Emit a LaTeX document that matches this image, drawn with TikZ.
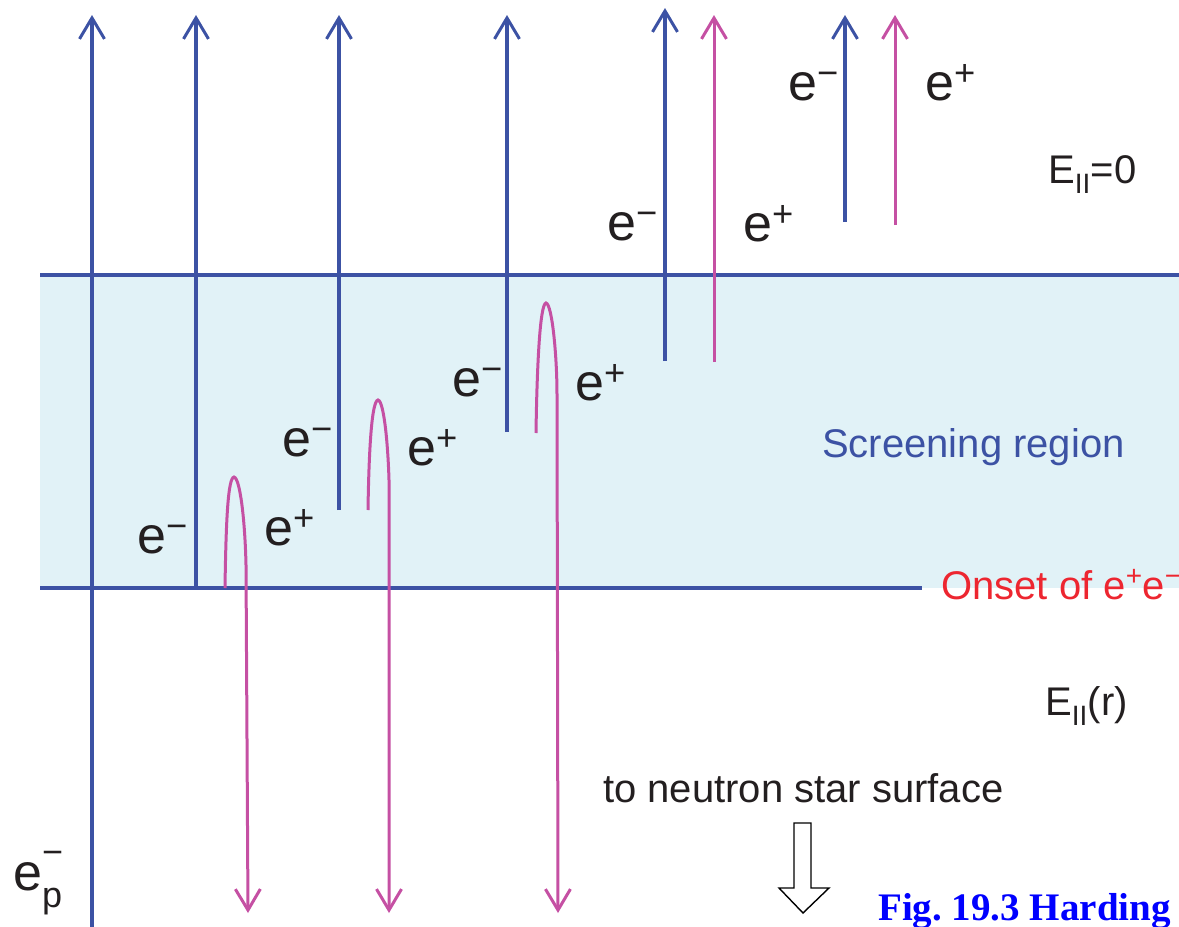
\documentclass[tikz,border=0pt]{standalone}
\usepackage{fontspec}
\setmainfont{Liberation Sans}
\newfontfamily\figfont{Liberation Serif}
\usetikzlibrary{arrows.meta, positioning}
\definecolor{beamblue}{RGB}{60, 82, 164}
\definecolor{pairpink}{RGB}{197, 80, 163}
\definecolor{screenfill}{RGB}{225, 242, 247}
\definecolor{onsetred}{RGB}{237, 38, 48}
\definecolor{labelink}{RGB}{35, 31, 32}
\definecolor{figblue}{RGB}{0, 0, 255}
\newcommand{\pcharge}[1]{e\raisebox{0.1em}{\textsuperscript{#1}}}
\newcommand{\Epar}{E\textsubscript{II}}

\begin{document}
\begin{tikzpicture}[
      x=1pt, y=-1pt,
      barb/.style={-{Straight Barb[length=21pt, width=25pt, line width=3pt]}},
      eline/.style={draw=beamblue, line width=3.2pt},
      pline/.style={draw=pairpink, line width=3pt},
      bandline/.style={draw=beamblue, line width=3.2pt},
      plabel/.style={anchor=base west, inner sep=0pt, text=labelink, font=\fontsize{52}{60}\selectfont},
      tlabel/.style={anchor=base west, inner sep=0pt, text=labelink, font=\fontsize{40}{48}\selectfont}
    ]
      \useasboundingbox (0,0) rectangle (1179,927);

      % screening region
      \fill[screenfill] (40,275) rectangle (1179,588);
      \coordinate (topL) at (40,275);
      \coordinate (topR) at (1179,275);
      \coordinate (onL) at (40,588);
      \coordinate (onR) at (922,588);
      \draw[bandline] (topL) -- (topR);
      \draw[bandline] (onL) -- (onR);

      % electrons going out
      \coordinate (p0) at (92,927);   \coordinate (t0) at (92,15);
      \coordinate (p1) at (196,588);  \coordinate (t1) at (196,15);
      \coordinate (p2) at (339,510);  \coordinate (t2) at (339,15);
      \coordinate (p3) at (507,432);  \coordinate (t3) at (507,15);
      \coordinate (p4) at (665,361);  \coordinate (t4) at (665,8);
      \coordinate (p5) at (845,222);  \coordinate (t5) at (845,15);
      \draw[eline, barb] (p0) -- (t0);
      \draw[eline, barb] (p1) -- (t1);
      \draw[eline, barb] (p2) -- (t2);
      \draw[eline, barb] (p3) -- (t3);
      \draw[eline, barb] (p4) -- (t4);
      \draw[eline, barb] (p5) -- (t5);

      % positrons going out
      \coordinate (q4) at (714,362);  \coordinate (u4) at (714,15);
      \coordinate (q5) at (895,225);  \coordinate (u5) at (895,15);
      \draw[pline, barb] (q4) -- (u4);
      \draw[pline, barb] (q5) -- (u5);

      % positrons turned back to the surface
      \coordinate (h1) at (225,588);  \coordinate (a1) at (234,477);  \coordinate (d1) at (248,913);
      \coordinate (h2) at (368,510);  \coordinate (a2) at (378,400);  \coordinate (d2) at (389,913);
      \coordinate (h3) at (536,433);  \coordinate (a3) at (546,303);  \coordinate (d3) at (558,913);
      \draw[pline, barb] (h1) .. controls (226,520) and (228,478) .. (a1)
                         .. controls (240,478) and (245,520) .. (246,565) -- (d1);
      \draw[pline, barb] (h2) .. controls (369,445) and (372,401) .. (a2)
                         .. controls (384,401) and (388,445) .. (389,480) -- (d2);
      \draw[pline, barb] (h3) .. controls (537,365) and (540,304) .. (a3)
                         .. controls (552,304) and (557,355) .. (557,395) -- (d3);

      % charge labels
      \node[plabel] (em1) at (137,553) {\pcharge{−}};
      \node[plabel] (ep1) at (264,545) {\pcharge{+}};
      \node[plabel] (em2) at (282,456) {\pcharge{−}};
      \node[plabel] (ep2) at (407,465) {\pcharge{+}};
      \node[plabel] (em3) at (452,396) {\pcharge{−}};
      \node[plabel] (ep3) at (575,400) {\pcharge{+}};
      \node[plabel] (em4) at (607,240) {\pcharge{−}};
      \node[plabel] (ep4) at (743,241) {\pcharge{+}};
      \node[plabel] (em5) at (788,100) {\pcharge{−}};
      \node[plabel] (ep5) at (925,100) {\pcharge{+}};
      \node[plabel] (prim) at (13,890)
            {e\rlap{\raisebox{0.5em}{\fontsize{36}{40}\selectfont −}}\raisebox{-0.33em}{\fontsize{36}{40}\selectfont p}};

      % region texts
      \node[tlabel] (Ezero) at (1048,183) {\Epar=0};
      \node[tlabel, text=beamblue] (screen) at (822,457) {Screening region};
      \node[tlabel, text=onsetred] (onset) at (941,599) {Onset of \pcharge{+}\pcharge{−}};
      \node[tlabel] (Er) at (1045,715) {\Epar(r)};
      \node[tlabel] (surf) at (603,802) {to neutron star surface};

      % hollow arrow down
      \coordinate (hs) at (803,913);
      \draw[line width=1.4pt, fill=white] (794,823) -- (811,823) -- (811,888) -- (829,888)
            -- (hs) -- (779,888) -- (794,888) -- cycle;

      \node[anchor=base west, inner sep=0pt, text=figblue, font=\figfont\bfseries\fontsize{39}{46}\selectfont]
            (figlab) at (878,920) {\frenchspacing Fig. 19.3 Harding};
    \end{tikzpicture}
\end{document}
